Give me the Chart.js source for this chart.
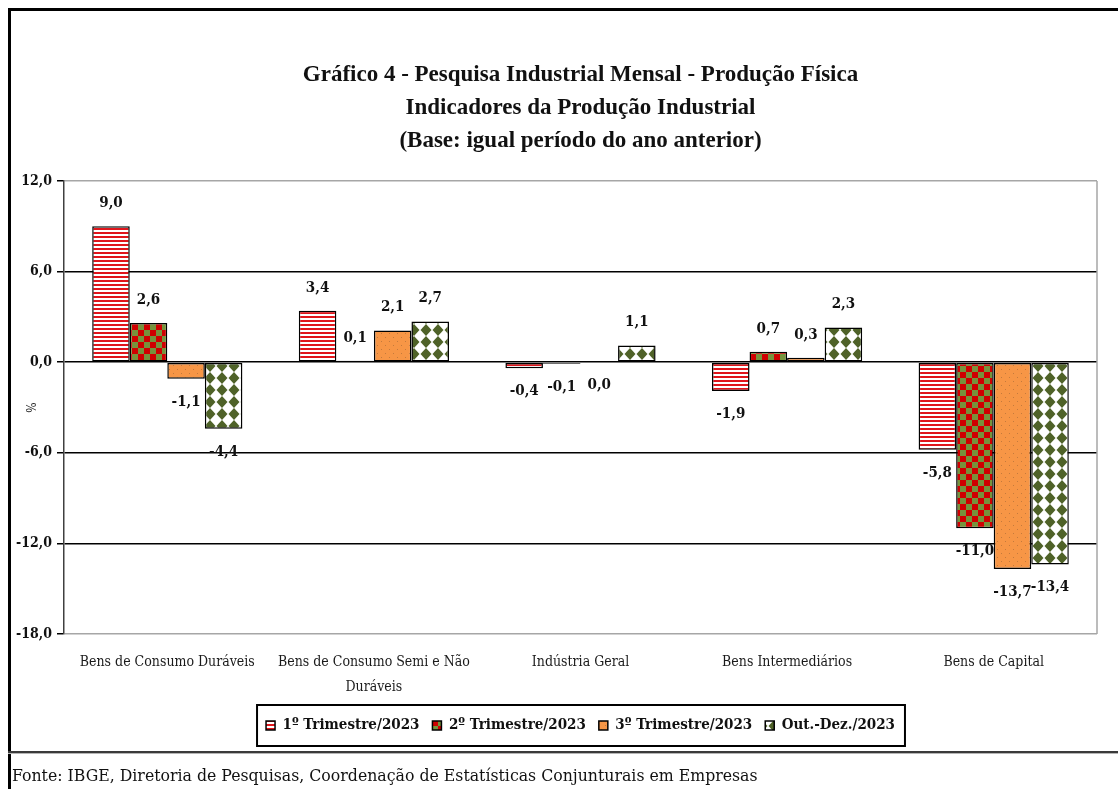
<!DOCTYPE html>
<html lang="pt-BR">
<head>
<meta charset="utf-8">
<title>Gráfico 4 - Pesquisa Industrial Mensal - Produção Física</title>
<script src="https://cdn.jsdelivr.net/npm/chart.js@4/dist/chart.umd.min.js"></script>
<style>
  body { margin: 0; background: #fff; }
  #wrap { position: relative; width: 1118px; height: 789px; overflow: hidden; }
  #chartBox { position: absolute; left: 0; top: 0; width: 1118px; height: 750px; }
  #frame { position: absolute; left: 8px; top: 8px; width: 1120px; height: 800px; border-top: 3px solid #000; border-left: 3px solid #000; }
  #rule { position: absolute; left: 8px; top: 751px; width: 1120px; height: 2px; background: #3a3a3a; border-bottom: 1px solid #b5b5b5; }
  #source { position: absolute; left: 12px; top: 765px; font: 17.5px "DejaVu Serif Condensed", "DejaVu Serif", serif; color: #111; white-space: nowrap; }
</style>
</head>
<body>
<div id="wrap">
  <div id="chartBox"><canvas id="chart" width="1118" height="750"></canvas></div>
  <div id="frame"></div>
  <div id="rule"></div>
  <div id="source">Fonte: IBGE, Diretoria de Pesquisas, Coordenação de Estatísticas Conjunturais em Empresas</div>
</div>
<script>
// ===== DATA =====
const categories = [
  'Bens de Consumo Duráveis',
  ['Bens de Consumo Semi e Não', 'Duráveis'],
  'Indústria Geral',
  'Bens Intermediários',
  'Bens de Capital'
];
const seriesNames = ['1º Trimestre/2023', '2º Trimestre/2023', '3º Trimestre/2023', 'Out.-Dez./2023'];
const tri1 = [9.0, 3.4, -0.4, -1.9, -5.8];
const tri2 = [2.6, 0.1, -0.1, 0.7, -11.0];
const tri3 = [-1.1, 2.1, 0.0, 0.3, -13.7];
const outDez = [-4.4, 2.7, 1.1, 2.3, -13.4];
const yMin = -18, yMax = 12, yStep = 6;

const TITLE_FONT = '"Liberation Serif", serif';
const COND_FONT = '"DejaVu Serif Condensed", "DejaVu Serif", serif';
const fmt = v => v.toFixed(1).replace('.', ',');

// ===== FILL PATTERNS (Excel-like) =====
function makePattern(w, h, paint) {
  const c = document.createElement('canvas');
  c.width = w; c.height = h;
  paint(c.getContext('2d'));
  return document.getElementById('chart').getContext('2d').createPattern(c, 'repeat');
}

const stripes = makePattern(4, 4, g => {
  g.fillStyle = '#fff'; g.fillRect(0, 0, 4, 4);
  g.fillStyle = '#e0151b'; g.fillRect(0, 0, 4, 2);
});
const checker = makePattern(12, 12, g => {
  g.fillStyle = '#77933c'; g.fillRect(0, 0, 12, 12);
  g.fillStyle = '#d00000'; g.fillRect(0, 0, 6, 6); g.fillRect(6, 6, 6, 6);
});
const dots = makePattern(8, 8, g => {
  g.fillStyle = '#f79646'; g.fillRect(0, 0, 8, 8);
  g.fillStyle = '#c47a3c'; g.fillRect(1, 1, 1, 1); g.fillRect(5, 5, 1, 1);
});
const diamonds = makePattern(12, 12, g => {
  g.fillStyle = '#fff'; g.fillRect(0, 0, 12, 12);
  g.fillStyle = '#4f6228';
  g.beginPath(); g.moveTo(6, 0); g.lineTo(11.5, 6); g.lineTo(6, 12); g.lineTo(0.5, 6); g.closePath(); g.fill();
});

// value labels at the outer end of every bar
const barLabels = {
  id: 'barLabels',
  afterDatasetsDraw(chart) {
    const ctx = chart.ctx;
    ctx.save();
    ctx.font = 'bold 15px ' + COND_FONT;
    ctx.fillStyle = '#111';
    ctx.textAlign = 'center';
    ctx.textBaseline = 'middle';
    chart.data.datasets.forEach((ds, i) => {
      chart.getDatasetMeta(i).data.forEach((bar, j) => {
        const v = ds.data[j];
        ctx.fillText(fmt(v), bar.x, v > 0 ? bar.y - 23 : bar.y + 23);
      });
    });
    ctx.restore();
  }
};

// right edge of plot area + box round the legend
const frames = {
  id: 'frames',
  beforeDatasetsDraw(chart) {
    const { ctx, chartArea: a } = chart;
    ctx.save();
    ctx.strokeStyle = '#a6a6a6';
    ctx.lineWidth = 1.5;
    ctx.beginPath(); ctx.moveTo(a.right, a.top); ctx.lineTo(a.right, a.bottom); ctx.stroke();
    ctx.restore();
  },
  afterDraw(chart) {
    const hb = chart.legend.legendHitBoxes;
    if (!hb || !hb.length) return;
    const left = Math.min(...hb.map(h => h.left)) - 9;
    const right = Math.max(...hb.map(h => h.left + h.width)) + 10;
    const mid = hb[0].top + hb[0].height / 2;
    const ctx = chart.ctx;
    ctx.save();
    ctx.strokeStyle = '#000';
    ctx.lineWidth = 2;
    ctx.strokeRect(left, mid - 20.5, right - left, 41);
    ctx.restore();
  }
};

new Chart(document.getElementById('chart'), {
  type: 'bar',
  data: {
    labels: categories,
    datasets: [
      { label: seriesNames[0], data: tri1, backgroundColor: stripes },
      { label: seriesNames[1], data: tri2, backgroundColor: checker },
      { label: seriesNames[2], data: tri3, backgroundColor: dots },
      { label: seriesNames[3], data: outDez, backgroundColor: diamonds }
    ].map(d => ({ ...d, borderColor: '#000', borderWidth: 1.5, borderSkipped: false, categoryPercentage: 0.727, barPercentage: 1 }))
  },
  options: {
    responsive: false,
    animation: false,
    layout: { padding: { left: 0, right: 21, top: 0, bottom: 7 } },
    plugins: {
      tooltip: { enabled: false },
      title: {
        display: true,
        fullSize: false,
        text: ['Gráfico 4 - Pesquisa Industrial Mensal - Produção Física', 'Indicadores da Produção Industrial', '(Base: igual período do ano anterior)'],
        color: '#111',
        font: { family: TITLE_FONT, size: 23, weight: 'bold', lineHeight: 33 / 23 },
        padding: { top: 59, bottom: 23 }
      },
      legend: {
        position: 'bottom',
        fullSize: false,
        labels: {
          boxWidth: 9, boxHeight: 9, padding: 13,
          color: '#111',
          font: { family: COND_FONT, size: 15, weight: 'bold' }
        }
      }
    },
    scales: {
      x: {
        grid: { display: false },
        border: { display: false },
        ticks: { color: '#1a1a1a', padding: 8, maxRotation: 0, autoSkip: false, font: { family: COND_FONT, size: 14, lineHeight: 25 / 14 } },
        afterFit: s => { s.height = 71; }
      },
      y: {
        min: yMin, max: yMax,
        grid: {
          color: c => (c.tick.value === yMax || c.tick.value === yMin) ? '#a6a6a6' : '#000',
          lineWidth: 1.5, tickLength: 7, tickColor: '#000'
        },
        border: { display: true, color: '#404040', width: 1.5 },
        ticks: { stepSize: yStep, padding: 5, color: '#111', callback: v => fmt(v), font: { family: COND_FONT, size: 14, weight: 'bold' } },
        title: { display: true, text: '%', color: '#222', font: { family: COND_FONT, size: 12 }, padding: { top: 26, bottom: 0 } },
        afterFit: s => { s.width = 64; }
      }
    }
  },
  plugins: [barLabels, frames]
});
</script>
</body>
</html>
